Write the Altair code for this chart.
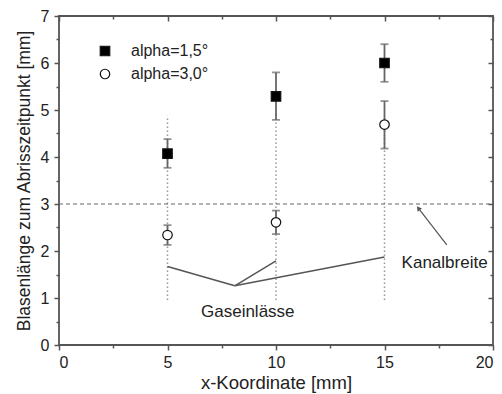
import altair as alt
import pandas as pd

# ---- data ----
x_pos = [5, 10, 15]
series_names = ["alpha=1,5°", "alpha=3,0°"]
a15_y = [4.07, 5.29, 6.00]
a15_lo = [3.77, 4.79, 5.60]
a15_hi = [4.38, 5.80, 6.40]
a30_y = [2.34, 2.61, 4.69]
a30_lo = [2.13, 2.36, 4.18]
a30_hi = [2.55, 2.86, 5.19]

inlet_lo = [0.96, 0.96, 0.96]
inlet_hi = [4.88, 4.88, 4.88]

kanal_y = [3.0]

gas_vertex = (8.1, 1.26)
gas_ends_x = [5.0, 10.0, 15.0]
gas_ends_y = [1.67, 1.79, 1.87]
gas_label = ["Gaseinlässe"]
gas_label_x = [8.7]
gas_label_y = [0.71]

kanal_label = ["Kanalbreite"]
kanal_label_x = [17.77]
kanal_label_y = [1.74]
arrow_tail = (17.87, 2.13)
arrow_head = (16.56, 2.91)

x_ticks = [0, 2.5, 5, 7.5, 10, 12.5, 15, 17.5, 20]
y_ticks = [0, 0.5, 1, 1.5, 2, 2.5, 3, 3.5, 4, 4.5, 5, 5.5, 6, 6.5, 7]

FONT = "Liberation Sans"
AX = "#555555"

pts = pd.DataFrame({
    "x": x_pos * 2,
    "y": a15_y + a30_y,
    "lo": a15_lo + a30_lo,
    "hi": a15_hi + a30_hi,
    "series": [series_names[0]] * 3 + [series_names[1]] * 3,
})
inlets = pd.DataFrame({"x": x_pos, "lo": inlet_lo, "hi": inlet_hi})
kanal = pd.DataFrame({"y": kanal_y})

seg_rows = []
for i, (ex, ey) in enumerate(zip(gas_ends_x, gas_ends_y)):
    seg_rows.append({"seg": i, "o": 0, "x": gas_vertex[0], "y": gas_vertex[1]})
    seg_rows.append({"seg": i, "o": 1, "x": ex, "y": ey})
segs = pd.DataFrame(seg_rows)

arrow = pd.DataFrame({"x": [arrow_tail[0]], "y": [arrow_tail[1]],
                      "x2": [arrow_head[0]], "y2": [arrow_head[1]]})
arrowhead = pd.DataFrame({"x": [arrow_head[0]], "y": [arrow_head[1]]})
gas_txt = pd.DataFrame({"x": gas_label_x, "y": gas_label_y, "t": gas_label})
kan_txt = pd.DataFrame({"x": kanal_label_x, "y": kanal_label_y, "t": kanal_label})

xs = alt.Scale(domain=[0, 20], nice=False, zero=False)
ys = alt.Scale(domain=[0, 7], nice=False, zero=False)

x_axis = alt.Axis(values=x_ticks, labelExpr="datum.value % 5 == 0 ? format(datum.value, 'd') : ''",
                  tickSize={"condition": {"test": "datum.value % 5 == 0", "value": 5}, "value": 3},
                  grid=False, domain=False, tickColor=AX, tickWidth=1.5,
                  labelFont=FONT, labelFontSize=16, labelColor="#222", labelPadding=4,
                  title="x-Koordinate [mm]", titleFont=FONT, titleFontSize=18.5,
                  titleFontWeight="normal", titleColor="#222", titlePadding=3)
y_axis = alt.Axis(values=y_ticks, labelExpr="datum.value % 1 == 0 ? format(datum.value, 'd') : ''",
                  tickSize={"condition": {"test": "datum.value % 1 == 0", "value": 5}, "value": 3},
                  grid=False, domain=False, tickColor=AX, tickWidth=1.5,
                  labelFont=FONT, labelFontSize=16, labelColor="#222", labelPadding=5,
                  title="Blasenlänge zum Abrisszeitpunkt [mm]", titleFont=FONT, titleFontSize=17.5,
                  titleFontWeight="normal", titleColor="#222", titlePadding=7)

X = lambda f="x": alt.X(f"{f}:Q", scale=xs, axis=x_axis)
Y = lambda f="y": alt.Y(f"{f}:Q", scale=ys, axis=y_axis)

dotted = alt.Chart(inlets).mark_rule(color="#999999", strokeDash=[1.5, 2.5], strokeWidth=1.5).encode(
    x=X(), y=Y("lo"), y2="hi:Q")
dashed = alt.Chart(kanal).mark_rule(color="#666666", strokeDash=[4, 3], strokeWidth=1.2).encode(
    y=Y(), x=alt.value(0), x2=alt.value(434))
gas_lines = alt.Chart(segs).mark_line(color="#555555", strokeWidth=1.5).encode(
    x=X(), y=Y(), detail="seg:N", order="o:Q")
arrow_line = alt.Chart(arrow).mark_rule(color="#555555", strokeWidth=1.2).encode(
    x=X(), y=Y(), x2="x2:Q", y2="y2:Q")
arrow_tip = alt.Chart(arrowhead).mark_point(shape="triangle-up", filled=True, color="#555555",
                                            size=30, angle=322, opacity=1).encode(x=X(), y=Y())
err = alt.Chart(pts).mark_rule(color="#666666", strokeWidth=1.8).encode(
    x=X(), y=Y("lo"), y2="hi:Q")
cap_lo = alt.Chart(pts).mark_tick(color="#666666", orient="horizontal", size=8, thickness=1.8).encode(
    x=X(), y=Y("lo"))
cap_hi = alt.Chart(pts).mark_tick(color="#666666", orient="horizontal", size=8, thickness=1.8).encode(
    x=X(), y=Y("hi"))

legend = alt.Legend(title=None, orient="none", legendX=38, legendY=27,
                    labelFont=FONT, labelFontSize=16, labelColor="#222",
                    symbolSize=90, symbolStrokeWidth=1.2,
                    labelOffset=18, rowPadding=7)
points = alt.Chart(pts).mark_point(filled=True, strokeWidth=1.2, size=90, opacity=1).encode(
    x=X(), y=Y(),
    shape=alt.Shape("series:N", scale=alt.Scale(domain=series_names, range=["square", "circle"]),
                    legend=legend),
    fill=alt.Fill("series:N", scale=alt.Scale(domain=series_names, range=["#000000", "#ffffff"]),
                  legend=legend),
    stroke=alt.Stroke("series:N", scale=alt.Scale(domain=series_names, range=["#111111", "#111111"]),
                      legend=legend),
)
gas_text = alt.Chart(gas_txt).mark_text(font=FONT, fontSize=17, color="#222", align="center",
                                        baseline="middle").encode(x=X(), y=Y(), text="t:N")
kan_text = alt.Chart(kan_txt).mark_text(font=FONT, fontSize=17, color="#222", align="center",
                                        baseline="middle").encode(x=X(), y=Y(), text="t:N")

main = alt.layer(dotted, dashed, gas_lines, arrow_line, arrow_tip, gas_text, kan_text,
                 err, cap_lo, cap_hi, points)

# mirror axes (top / right) with inward ticks
x_axis_top = alt.Axis(values=x_ticks, orient="top", labels=False, title=None, grid=False, domain=False,
                      tickColor=AX, tickWidth=1.5,
                      tickSize={"condition": {"test": "datum.value % 5 == 0", "value": -5}, "value": -3})
y_axis_right = alt.Axis(values=y_ticks, orient="right", labels=False, title=None, grid=False, domain=False,
                        tickColor=AX, tickWidth=1.5,
                        tickSize={"condition": {"test": "datum.value % 1 == 0", "value": -5}, "value": -3})
mirror = alt.Chart(kanal).mark_rule(opacity=0).encode(
    y=alt.Y("y:Q", scale=ys, axis=y_axis_right),
    x=alt.value(0), x2=alt.value(1))
mirror_x = alt.Chart(inlets).mark_rule(opacity=0).encode(
    x=alt.X("x:Q", scale=xs, axis=x_axis_top),
    y=alt.value(0), y2=alt.value(1))

chart = alt.layer(main, mirror, mirror_x).resolve_scale(x="independent", y="independent").properties(
    width=434, height=329,
    autosize=alt.AutoSizeParams(type="none"),
    padding={"left": 59, "top": 16, "right": 9, "bottom": 49},
    background="white",
).configure_view(stroke=AX, strokeWidth=1.8)

chart.save("out.html", embed_options={"renderer": "svg", "actions": False})
